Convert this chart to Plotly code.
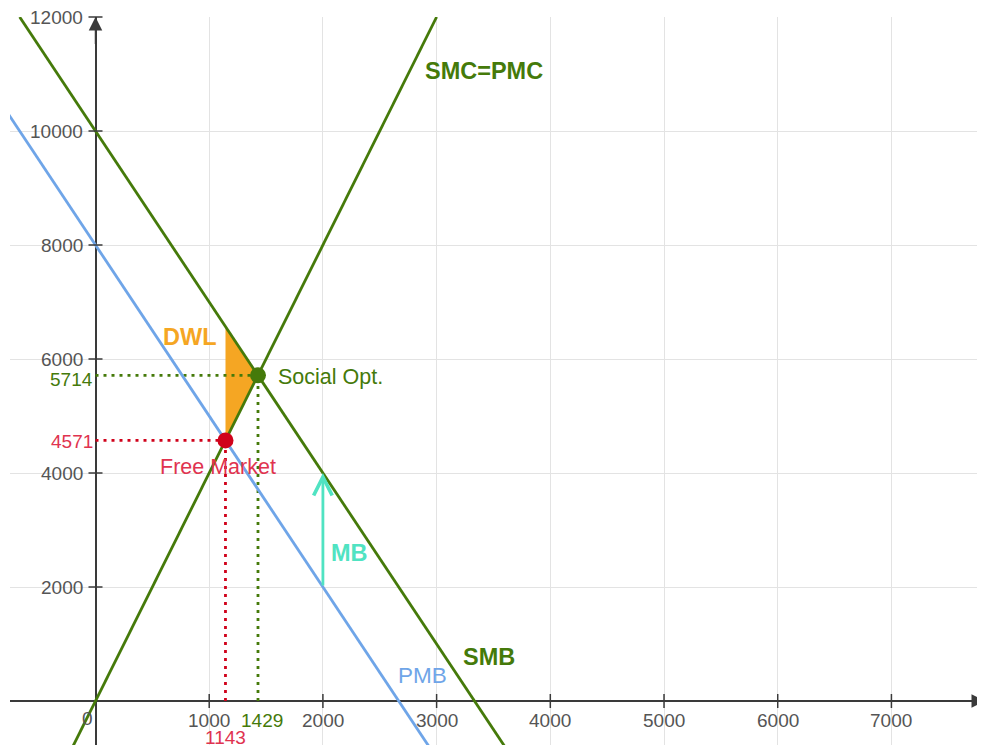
import plotly.graph_objects as go

# ---- data ----
x_ticks = [1000, 2000, 3000, 4000, 5000, 6000, 7000]
y_ticks = [2000, 4000, 6000, 8000, 10000, 12000]

smc_q = [-250, 3000]
smc_p = [-1000, 12000]
smb_q = [-667, 3600]
smb_p = [12000, -800]
pmb_q = [-900, 2950]
pmb_p = [10700, -850]

dwl_q = [1143, 1143, 1429]
dwl_p = [4571, 6571, 5714]

free_q, free_p = 1143, 4571
soc_q, soc_p = 1429, 5714

mb_q = 2000
mb_from, mb_to = 2000, 4000

GREEN = "#457A0A"
RED = "#D0021B"
RED_TXT = "#E0334F"
ORANGE = "#F5A623"
TEAL = "#50E3C2"
BLUE = "#6FA5E8"
AXIS = "#3a3a3a"
TICK_TXT = "#555555"
LW = 2.8
DOTS = "3px,5px"

fig = go.Figure()

# DWL triangle
fig.add_trace(go.Scatter(x=dwl_q, y=dwl_p, fill="toself", fillcolor=ORANGE,
                         line=dict(width=0, color=ORANGE), mode="lines", hoverinfo="skip"))

# dotted guide lines
fig.add_trace(go.Scatter(x=[0, free_q], y=[free_p, free_p], mode="lines",
                         line=dict(color=RED, width=2.8, dash=DOTS)))
fig.add_trace(go.Scatter(x=[free_q, free_q], y=[0, free_p], mode="lines",
                         line=dict(color=RED, width=2.8, dash=DOTS)))
fig.add_trace(go.Scatter(x=[0, soc_q], y=[soc_p, soc_p], mode="lines",
                         line=dict(color=GREEN, width=2.8, dash=DOTS)))
fig.add_trace(go.Scatter(x=[soc_q, soc_q], y=[0, soc_p], mode="lines",
                         line=dict(color=GREEN, width=2.8, dash=DOTS)))

# curves
fig.add_trace(go.Scatter(x=pmb_q, y=pmb_p, mode="lines", line=dict(color=BLUE, width=LW)))
fig.add_trace(go.Scatter(x=smb_q, y=smb_p, mode="lines", line=dict(color=GREEN, width=LW)))
fig.add_trace(go.Scatter(x=smc_q, y=smc_p, mode="lines", line=dict(color=GREEN, width=LW)))

# axis tick marks
fig.add_trace(go.Scatter(x=x_ticks, y=[0] * len(x_ticks), mode="markers",
                         marker=dict(symbol="line-ns", size=10, line=dict(color=AXIS, width=1.5)),
                         cliponaxis=False))
fig.add_trace(go.Scatter(x=[0] * len(y_ticks), y=y_ticks, mode="markers",
                         marker=dict(symbol="line-ew", size=10, line=dict(color=AXIS, width=1.5)),
                         cliponaxis=False))

# points
fig.add_trace(go.Scatter(x=[soc_q], y=[soc_p], mode="markers",
                         marker=dict(color=GREEN, size=16)))
fig.add_trace(go.Scatter(x=[free_q], y=[free_p], mode="markers",
                         marker=dict(color=RED, size=16)))

ann = []
TF = "Arial, Liberation Sans, sans-serif"
TS = 19
for t in x_ticks:
    ann.append(dict(x=t, y=0, text=str(t), showarrow=False, xanchor="center", yanchor="top",
                    yshift=-7, font=dict(family=TF, size=TS, color=TICK_TXT)))
for t in y_ticks:
    ann.append(dict(x=0, y=t, text=str(t), showarrow=False, xanchor="right", yanchor="middle",
                    xshift=-11, font=dict(family=TF, size=TS, color=TICK_TXT)))
ann.append(dict(x=0, y=0, text="0", showarrow=False, xanchor="right", yanchor="top",
                xshift=-1, yshift=-5, font=dict(family=TF, size=TS, color=TICK_TXT)))

# value labels
ann.append(dict(x=free_q, y=0, text=str(free_q), showarrow=False, xanchor="center", yanchor="top",
                yshift=-24, font=dict(family=TF, size=TS, color=RED_TXT)))
ann.append(dict(x=soc_q, y=0, text=str(soc_q), showarrow=False, xanchor="center", yanchor="top",
                xshift=4, yshift=-7, font=dict(family=TF, size=TS, color=GREEN)))
ann.append(dict(x=0, y=soc_p, text=str(soc_p), showarrow=False, xanchor="right", yanchor="middle",
                xshift=-1, yshift=-4, font=dict(family=TF, size=TS, color=GREEN)))
ann.append(dict(x=0, y=free_p, text=str(free_p), showarrow=False, xanchor="right", yanchor="middle",
                xshift=-1, yshift=-1, font=dict(family=TF, size=TS, color=RED_TXT)))

# curve / region labels
BS = 23.5
ann += [
    dict(x=831, y=6386, text="<b>DWL</b>", showarrow=False, font=dict(family=TF, size=BS, color=ORANGE)),
    dict(x=1587, y=5690, text="Social Opt.", showarrow=False, xanchor="left",
         font=dict(family=TF, size=21.5, color=GREEN)),
    dict(x=1077, y=4105, text="Free Market", showarrow=False, font=dict(family=TF, size=21.5, color=RED_TXT)),
    dict(x=2238, y=2596, text="<b>MB</b>", showarrow=False, font=dict(family=TF, size=BS, color=TEAL)),
    dict(x=3460, y=772, text="<b>SMB</b>", showarrow=False, font=dict(family=TF, size=BS, color=GREEN)),
    dict(x=2880, y=456, text="PMB", showarrow=False, font=dict(family=TF, size=22.5, color=BLUE)),
    dict(x=3416, y=11053, text="<b>SMC=PMC</b>", showarrow=False, font=dict(family=TF, size=BS, color=GREEN)),
]

# MB arrow
ann.append(dict(x=mb_q, y=mb_to, ax=mb_q, ay=mb_from, axref="x", ayref="y", xref="x", yref="y",
                text="", showarrow=True, arrowhead=5, arrowsize=1.3, arrowwidth=2.8, arrowcolor=TEAL))
# axis arrowheads
ann.append(dict(x=0, y=12000, ax=0, ay=11500, axref="x", ayref="y", text="", showarrow=True,
                arrowhead=2, arrowsize=1.8, arrowwidth=1.5, arrowcolor=AXIS))
ann.append(dict(x=7823, y=0, ax=7500, ay=0, axref="x", ayref="y", text="", showarrow=True,
                arrowhead=2, arrowsize=1.8, arrowwidth=1.5, arrowcolor=AXIS))

# the page body has an 8px margin, so the figure is sized/offset to compensate
fig.update_layout(
    width=977, height=737,
    margin=dict(l=2, r=0, t=9, b=0),
    paper_bgcolor="white", plot_bgcolor="white",
    showlegend=False,
    annotations=ann,
    xaxis=dict(range=[-752, 7823], tick0=0, dtick=1000, showgrid=True, gridcolor="#e3e3e3",
               gridwidth=1, zeroline=True, zerolinecolor=AXIS, zerolinewidth=1.5,
               showticklabels=False, ticks="", showline=False, fixedrange=True),
    yaxis=dict(range=[-772, 12000], tick0=0, dtick=2000, showgrid=True, gridcolor="#e3e3e3",
               gridwidth=1, zeroline=True, zerolinecolor=AXIS, zerolinewidth=1.5,
               showticklabels=False, ticks="", showline=False, fixedrange=True),
)

fig.write_html("out.html")
